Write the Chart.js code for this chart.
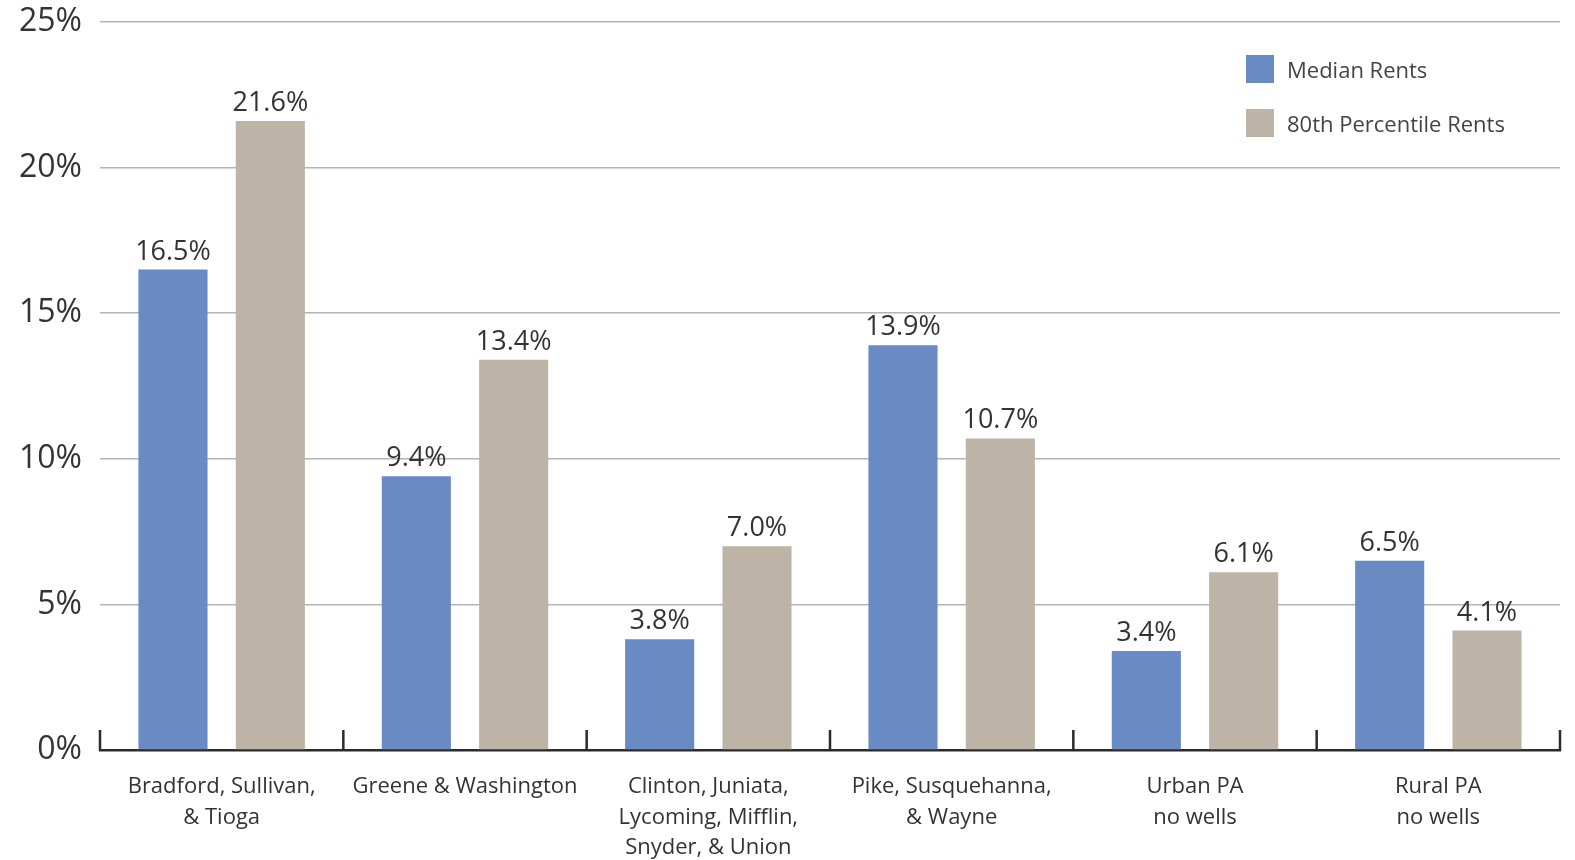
<!DOCTYPE html>
<html>
<head>
<meta charset="utf-8">
<script src="https://cdn.jsdelivr.net/npm/chart.js@4.4.1/dist/chart.umd.min.js"></script>
<style>
  html, body { margin: 0; padding: 0; background: #fff; }
  #wrap { position: relative; width: 1575px; height: 860px; }
  #legend { position: absolute; left: 1246px; top: 55px; font-family: "Open Sans", sans-serif; font-size: 22px; color: #444; }
  #legend .item { display: flex; align-items: center; height: 28px; margin-bottom: 26px; }
  #legend .swatch { width: 28px; height: 28px; margin-right: 13px; }
</style>
</head>
<body>
<div id="wrap">
  <canvas id="rentChart" width="1575" height="860"></canvas>
  <div id="legend"></div>
</div>
<script>
const regions = [
  ["Bradford, Sullivan,", "& Tioga"],
  "Greene & Washington",
  ["Clinton, Juniata,", "Lycoming, Mifflin,", "Snyder, & Union"],
  ["Pike, Susquehanna,", "& Wayne"],
  ["Urban PA", "no wells"],
  ["Rural PA", "no wells"]
];
const seriesNames = ["Median Rents", "80th Percentile Rents"];
const seriesColors = ["#6a8ac4", "#bdb3a6"];
const medianRents = [16.5, 9.4, 3.8, 13.9, 3.4, 6.5];
const pct80Rents = [21.6, 13.4, 7.0, 10.7, 6.1, 4.1];
const yMax = 25;
const yStep = 5;

const textColor = "#333";
const mainFont = "'Open Sans', sans-serif";

// value above each bar
const barLabels = {
  id: "barLabels",
  afterDatasetsDraw(chart) {
    const ctx = chart.ctx;
    ctx.save();
    ctx.font = "27px " + mainFont;
    ctx.fillStyle = textColor;
    ctx.textAlign = "center";
    ctx.textBaseline = "alphabetic";
    chart.data.datasets.forEach((ds, di) => {
      chart.getDatasetMeta(di).data.forEach((bar, i) => {
        ctx.fillText(ds.data[i].toFixed(1) + "%", bar.x, bar.y - 10);
      });
    });
    ctx.restore();
  }
};

// short upward ticks on the baseline between categories
const boundaryTicks = {
  id: "boundaryTicks",
  beforeDatasetsDraw(chart) {
    const x = chart.scales.x;
    const n = chart.data.labels.length;
    const half = (x.getPixelForValue(1) - x.getPixelForValue(0)) / 2;
    const base = chart.chartArea.bottom;
    const ctx = chart.ctx;
    ctx.save();
    ctx.strokeStyle = "#2b2b2b";
    ctx.lineWidth = 2.5;
    ctx.beginPath();
    for (let i = 0; i <= n; i++) {
      const px = i < n ? x.getPixelForValue(i) - half : x.getPixelForValue(n - 1) + half;
      ctx.moveTo(px, base + 1);
      ctx.lineTo(px, base - 20);
    }
    ctx.stroke();
    ctx.restore();
  }
};

const chart = new Chart(document.getElementById("rentChart"), {
  type: "bar",
  data: {
    labels: regions,
    datasets: [
      { label: seriesNames[0], data: medianRents, backgroundColor: seriesColors[0] },
      { label: seriesNames[1], data: pct80Rents, backgroundColor: seriesColors[1] }
    ]
  },
  options: {
    responsive: false,
    animation: false,
    categoryPercentage: 0.8,
    barPercentage: 0.71,
    layout: { padding: { top: 22, right: 15, left: 0, bottom: 0 } },
    plugins: { legend: { display: false }, tooltip: { enabled: false } },
    scales: {
      x: {
        grid: { display: false },
        border: { display: true, color: "#2b2b2b", width: 2.5 },
        ticks: {
          color: textColor,
          font: { family: mainFont, size: 22, lineHeight: 1.38 },
          padding: 14,
          maxRotation: 0,
          autoSkip: false
        },
        afterFit(scale) { scale.height = 110; }
      },
      y: {
        min: 0,
        max: yMax,
        grid: {
          drawTicks: false,
          lineWidth: 1.5,
          color: (c) => (c.tick && c.tick.value === 0 ? "rgba(0,0,0,0)" : "#b4b4b4")
        },
        border: { display: false },
        ticks: {
          stepSize: yStep,
          padding: 18,
          color: textColor,
          font: { family: mainFont, size: 32 },
          callback: (v) => v + "%"
        },
        afterFit(scale) {
          scale.width = 100;
          scale.paddingTop = 0;
          scale.paddingBottom = 0;
        }
      }
    }
  },
  plugins: [barLabels, boundaryTicks]
});

// legend, stacked in the upper right corner
const legendEl = document.getElementById("legend");
seriesNames.forEach((name, i) => {
  const row = document.createElement("div");
  row.className = "item";
  row.innerHTML = `<span class="swatch" style="background:${seriesColors[i]}"></span><span>${name}</span>`;
  legendEl.appendChild(row);
});
</script>
</body>
</html>
